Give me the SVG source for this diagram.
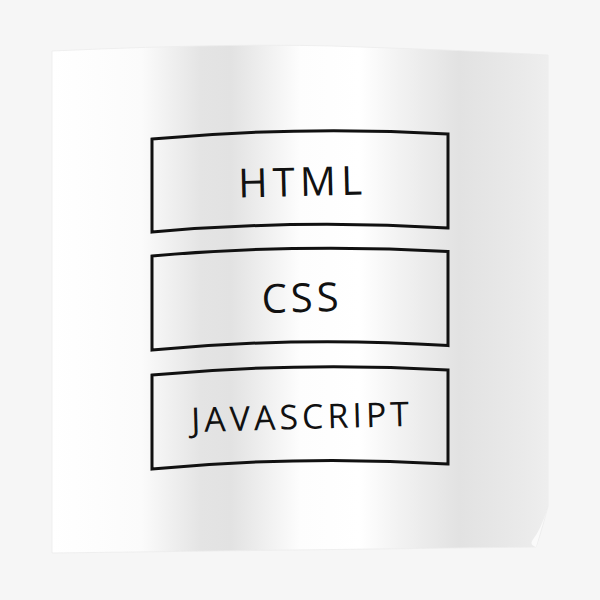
<svg xmlns="http://www.w3.org/2000/svg" width="600" height="600" viewBox="0 0 600 600">
  <defs>
    <linearGradient id="shade" x1="52" y1="0" x2="548" y2="0" gradientUnits="userSpaceOnUse">
      <stop offset="0" stop-color="#ffffff"/>
      <stop offset="0.18" stop-color="#fbfbfb"/>
      <stop offset="0.3" stop-color="#e4e4e4"/>
      <stop offset="0.36" stop-color="#e2e2e2"/>
      <stop offset="0.5" stop-color="#fdfdfd"/>
      <stop offset="0.62" stop-color="#ffffff"/>
      <stop offset="0.7" stop-color="#f2f2f2"/>
      <stop offset="0.82" stop-color="#e2e2e2"/>
      <stop offset="0.95" stop-color="#eaeaea"/>
      <stop offset="1" stop-color="#eeeeee"/>
    </linearGradient>
    <style>
      .box { fill: none; stroke: #111; stroke-width: 3; stroke-linejoin: miter; }
      .lbl { font-family: "Open Sans", "Liberation Sans", sans-serif; font-size: 40px; fill: #111; text-anchor: middle; }
      .small { font-size: 34px; }
    </style>
  </defs>
  <rect x="0" y="0" width="600" height="600" fill="#f6f6f6"/>
  <g id="poster">
    <path d="M52,51 Q250,42 360,47 Q460,50 548,55 L548,506 Q542,530 536,547 L52,553 Z" fill="url(#shade)" stroke="#ececec" stroke-width="0.8"/>
    <path d="M548,506 Q541,530 536,547 Q530,545 532,541 Q542,528 548,506 Z" fill="#fafafa"/>
  </g>
  <g id="node-html">
    <path class="box" d="M152,139 Q300,125.5 448,134 L448,228 Q300,219 152,232 Z"/>
    <text class="lbl" x="300" y="196" textLength="124" lengthAdjust="spacing" transform="rotate(-1.4 300 180)">HTML</text>
  </g>
  <g id="node-css">
    <path class="box" d="M152,256 Q300,243 448,251.5 L448,345.6 Q300,336 152,350 Z"/>
    <text class="lbl" x="300" y="312" textLength="77" lengthAdjust="spacing" transform="rotate(-1.4 300 297)">CSS</text>
  </g>
  <g id="node-js">
    <path class="box" d="M152,375 Q300,361.5 448,370 L448,464 Q300,455 152,469 Z"/>
    <text class="lbl small" x="300" y="429" textLength="218" lengthAdjust="spacing" transform="rotate(-1.6 300 415)">JAVASCRIPT</text>
  </g>
  <g id="connectors"/>
</svg>
